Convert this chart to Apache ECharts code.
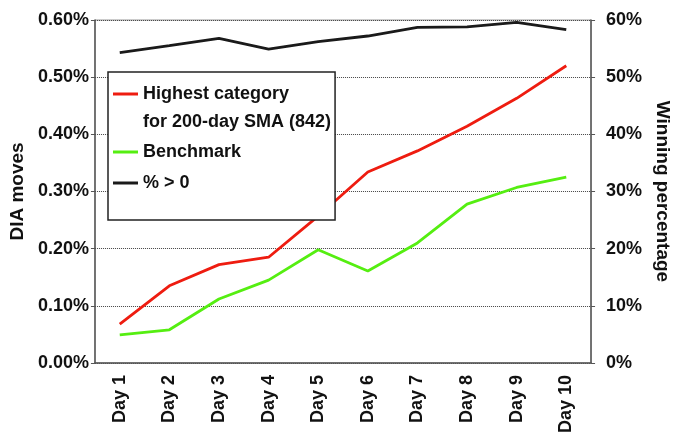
<!DOCTYPE html>
<html>
<head>
<meta charset="utf-8">
<script src="https://cdn.jsdelivr.net/npm/echarts@6/dist/echarts.min.js"></script>
<style>html,body{margin:0;padding:0;background:#fff;}#c{width:680px;height:436px;}</style>
</head>
<body>
<div id="c"></div>
<script>
var categories = ['Day 1','Day 2','Day 3','Day 4','Day 5','Day 6','Day 7','Day 8','Day 9','Day 10'];
var highestName = 'Highest category\nfor 200-day SMA (842)';
var benchName = 'Benchmark';
var winName = '% > 0';
// DIA moves, in percent
var highest = [0.068, 0.135, 0.172, 0.185, 0.257, 0.334, 0.371, 0.414, 0.463, 0.520];
var benchmark = [0.049, 0.058, 0.112, 0.145, 0.198, 0.161, 0.210, 0.278, 0.307, 0.325];
// winning percentage, in percent
var winning = [54.3, 55.5, 56.8, 54.9, 56.2, 57.2, 58.7, 58.8, 59.6, 58.3];
var leftTicks = {min: 0, max: 0.6, interval: 0.1};
var rightTicks = {min: 0, max: 60, interval: 10};

var FONT = '"Liberation Sans", Arial, sans-serif';
var TXT = '#111';
var AX = '#555';
var RED = '#ee1c10';
var GREEN = '#55ee11';
var BLACK = '#1a1a1a';

var chart = echarts.init(document.getElementById('c'), null, {renderer: 'canvas'});
chart.setOption({
  animation: false,
  backgroundColor: '#fff',
  textStyle: {fontFamily: FONT},
  grid: {left: 94, right: 80, top: 20, bottom: 73, show: true, borderColor: '#999', borderWidth: 1, backgroundColor: 'transparent'},
  legend: [
    {
      data: [{name: highestName, icon: 'rect', textStyle: {padding: [0, 0, -28, 0], rich: {x: {}}}}],
      orient: 'vertical', left: 108, top: 72,
      padding: [8, 4, 89, 5],
      itemWidth: 25, itemHeight: 3, itemGap: 3,
      selectedMode: false,
      backgroundColor: '#fff', borderColor: '#222', borderWidth: 1.5, borderRadius: 0,
      textStyle: {fontFamily: FONT, fontSize: 18, fontWeight: 'bold', color: TXT, lineHeight: 28},
      z: 4
    },
    {
      data: [{name: benchName, icon: 'rect'}, {name: winName, icon: 'rect'}],
      orient: 'vertical', left: 108, top: 138,
      padding: [0, 0, 0, 5],
      itemWidth: 25, itemHeight: 3, itemGap: 3,
      selectedMode: false,
      backgroundColor: 'transparent', borderWidth: 0,
      textStyle: {fontFamily: FONT, fontSize: 18, fontWeight: 'bold', color: TXT, lineHeight: 28},
      z: 5
    }
  ],
  xAxis: {
    type: 'category', data: categories, boundaryGap: true,
    axisLine: {show: true, lineStyle: {color: AX, width: 1.5}},
    axisTick: {show: false},
    axisLabel: {rotate: 90, margin: 12, fontFamily: FONT, fontSize: 18, fontWeight: 'bold', color: TXT, interval: 0},
    splitLine: {show: false}
  },
  yAxis: [
    {
      type: 'value', min: leftTicks.min, max: leftTicks.max, interval: leftTicks.interval,
      name: 'DIA moves', nameLocation: 'middle', nameGap: 66,
      nameTextStyle: {fontFamily: FONT, fontSize: 19, fontWeight: 'bold', color: TXT},
      axisLine: {show: true, lineStyle: {color: AX, width: 1.5}},
      axisTick: {show: true, inside: false, length: 4, lineStyle: {color: AX}},
      axisLabel: {margin: 6, fontFamily: FONT, fontSize: 18, fontWeight: 'bold', color: TXT,
        formatter: function (v) { return v.toFixed(2) + '%'; }},
      splitLine: {show: true, lineStyle: {type: 'dotted', color: '#444', width: 1}}
    },
    {
      type: 'value', min: rightTicks.min, max: rightTicks.max, interval: rightTicks.interval,
      position: 'right',
      name: 'Winning percentage', nameLocation: 'middle', nameGap: 60, nameRotate: -90,
      nameTextStyle: {fontFamily: FONT, fontSize: 19, fontWeight: 'bold', color: TXT},
      axisLine: {show: true, lineStyle: {color: AX, width: 1.5}},
      axisTick: {show: true, inside: false, length: 4, lineStyle: {color: AX}},
      axisLabel: {margin: 15, fontFamily: FONT, fontSize: 18, fontWeight: 'bold', color: TXT,
        formatter: function (v) { return v + '%'; }},
      splitLine: {show: false}
    }
  ],
  series: [
    {name: highestName, type: 'line', data: highest, yAxisIndex: 0, symbol: 'none',
      lineStyle: {color: RED, width: 2.8}, itemStyle: {color: RED}, z: 3},
    {name: benchName, type: 'line', data: benchmark, yAxisIndex: 0, symbol: 'none',
      lineStyle: {color: GREEN, width: 2.8}, itemStyle: {color: GREEN}, z: 3},
    {name: winName, type: 'line', data: winning, yAxisIndex: 1, symbol: 'none',
      lineStyle: {color: BLACK, width: 2.8}, itemStyle: {color: BLACK}, z: 3}
  ]
});
</script>
</body>
</html>
